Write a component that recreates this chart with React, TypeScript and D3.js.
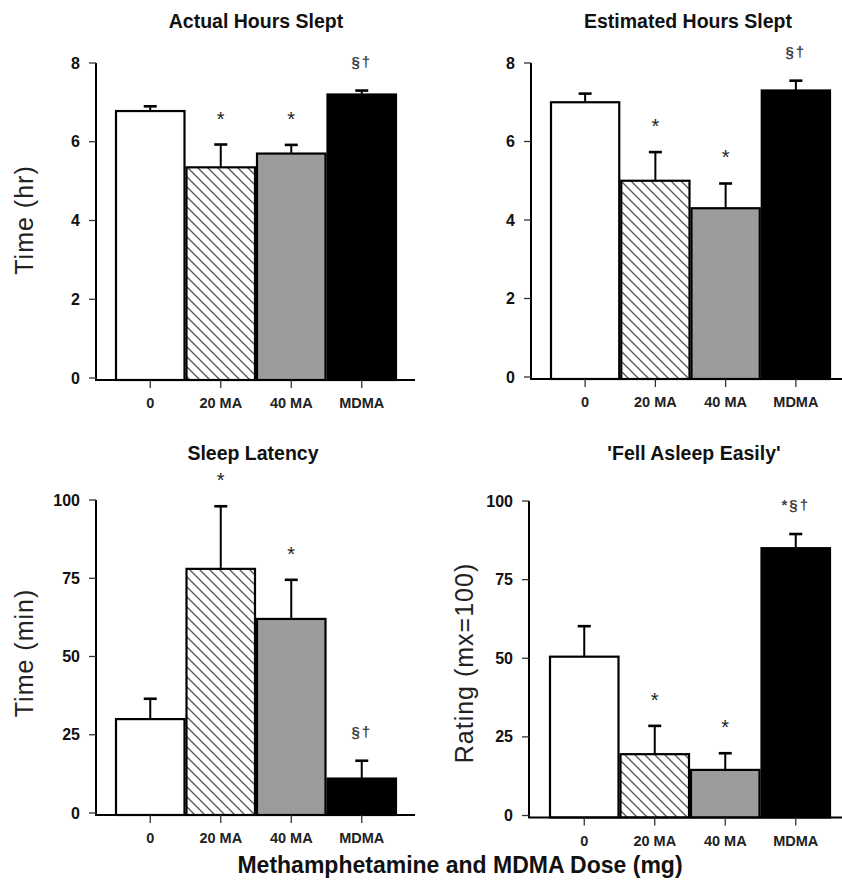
import React from "react";
import * as d3 from "d3";

const categories = ["0", "20 MA", "40 MA", "MDMA"];
const barFills = ["#ffffff", "url(#hatch)", "#9c9c9c", "#000000"];

const actualMeans = [6.78, 5.35, 5.7, 7.2];
const actualErr = [0.12, 0.58, 0.22, 0.1];
const actualSig = ["", "*", "*", "§†"];

const estimatedMeans = [7.0, 5.0, 4.3, 7.3];
const estimatedErr = [0.22, 0.73, 0.63, 0.25];
const estimatedSig = ["", "*", "*", "§†"];

const latencyMeans = [30, 78, 62, 11];
const latencyErr = [6.5, 20, 12.5, 5.7];
const latencySig = ["", "*", "*", "§†"];

const easilyMeans = [50.5, 19.5, 14.5, 85];
const easilyErr = [9.7, 9, 5.3, 4.5];
const easilySig = ["", "*", "*", "*§†"];

const hourTicks = [0, 2, 4, 6, 8];
const minuteTicks = [0, 25, 50, 75, 100];

const FONT = "'Liberation Sans', Arial, sans-serif";

type PanelProps = {
  title: string;
  titleX: number;
  titleY: number;
  yLabel?: string;
  yLabelX?: number;
  yLabelY?: number;
  means: number[];
  errs: number[];
  sig: string[];
  ticks: number[];
  axisX: number;
  yRange: [number, number];
  bandRange: [number, number];
  axisEnd: number;
};

function Panel(p: PanelProps) {
  const y = d3.scaleLinear().domain([0, p.ticks[p.ticks.length - 1]]).range(p.yRange);
  const x = d3.scaleBand<string>().domain(categories).range(p.bandRange).padding(0);
  const base = y(0) + 2;
  const capW = 13;

  return (
    <g>
      <text x={p.titleX} y={p.titleY} textAnchor="middle" fontFamily={FONT} fontWeight="bold" fontSize={19.5} fill="#111">
        {p.title}
      </text>
      {p.yLabel && (
        <text
          transform={`translate(${p.yLabelX},${p.yLabelY}) rotate(-90)`}
          textAnchor="middle"
          fontFamily={FONT}
          fontSize={25}
          letterSpacing={1}
          fill="#222"
        >
          {p.yLabel}
        </text>
      )}
      {/* bars */}
      {p.means.map((m, i) => {
        const x0 = x(categories[i])!;
        const w = x.bandwidth();
        const top = y(m);
        return (
          <rect
            key={"b" + i}
            x={x0 + 1}
            y={top}
            width={w - 2}
            height={base - top}
            fill={barFills[i]}
            stroke="#000"
            strokeWidth={2.2}
          />
        );
      })}
      {/* error bars */}
      {p.means.map((m, i) => {
        const cx = x(categories[i])! + x.bandwidth() / 2;
        const top = y(m + p.errs[i]);
        return (
          <g key={"e" + i} stroke="#000" strokeWidth={2}>
            <line x1={cx} x2={cx} y1={y(m)} y2={top} />
            <line x1={cx - capW / 2} x2={cx + capW / 2} y1={top} y2={top} strokeWidth={2.6} />
          </g>
        );
      })}
      {/* significance marks */}
      {p.sig.map((s, i) => {
        if (!s) return null;
        const cx = x(categories[i])! + x.bandwidth() / 2;
        const center = y(p.means[i] + p.errs[i]) - 30;
        const star = s === "*";
        return (
          <text
            key={"s" + i}
            x={cx}
            y={star ? center + 11 : center + 6}
            textAnchor="middle"
            fontFamily={FONT}
            fontSize={star ? 20 : 15}
            fontWeight={star ? "normal" : "bold"}
            fill={star ? "#222" : "#444"}
            letterSpacing={star ? 0 : 2}
          >
            {s}
          </text>
        );
      })}
      {/* y axis */}
      <line x1={p.axisX} x2={p.axisX} y1={y(p.ticks[p.ticks.length - 1])} y2={base} stroke="#000" strokeWidth={2} />
      {p.ticks.map((t) => (
        <g key={"t" + t}>
          <line x1={p.axisX - 7} x2={p.axisX} y1={y(t)} y2={y(t)} stroke="#333" strokeWidth={1.3} />
          <text
            x={p.axisX - 16}
            y={y(t) + 5.5}
            textAnchor="end"
            fontFamily={FONT}
            fontWeight="bold"
            fontSize={16}
            fill="#111"
          >
            {t}
          </text>
        </g>
      ))}
      {/* x axis */}
      <line x1={p.axisX - 1} x2={p.axisEnd} y1={base} y2={base} stroke="#000" strokeWidth={2.2} />
      {categories.map((c) => {
        const cx = x(c)! + x.bandwidth() / 2;
        return (
          <g key={"c" + c}>
            <line x1={cx} x2={cx} y1={base} y2={base + 8} stroke="#333" strokeWidth={1.3} />
            <text x={cx} y={base + 28} textAnchor="middle" fontFamily={FONT} fontWeight="bold" fontSize={14.5} fill="#222">
              {c}
            </text>
          </g>
        );
      })}
    </g>
  );
}

export default function App() {
  return (
    <svg
      width={842}
      height={882}
      style={{ position: "absolute", left: 0, top: 0, background: "#fff" }}
    >
      <defs>
        <pattern id="hatch" patternUnits="userSpaceOnUse" width={10} height={10}>
          <rect width={10} height={10} fill="#fff" />
          <path d="M-2,-2 L12,12 M-2,8 L2,12 M8,-2 L12,2" stroke="#555" strokeWidth={1.3} />
        </pattern>
      </defs>
      <Panel
        title="Actual Hours Slept"
        titleX={256}
        titleY={28}
        yLabel="Time (hr)"
        yLabelX={33}
        yLabelY={220}
        means={actualMeans}
        errs={actualErr}
        sig={actualSig}
        ticks={hourTicks}
        axisX={96}
        yRange={[378, 63]}
        bandRange={[115, 397]}
        axisEnd={415}
      />
      <Panel
        title="Estimated Hours Slept"
        titleX={688}
        titleY={28}
        means={estimatedMeans}
        errs={estimatedErr}
        sig={estimatedSig}
        ticks={hourTicks}
        axisX={531}
        yRange={[377, 63]}
        bandRange={[550, 831]}
        axisEnd={842}
      />
      <Panel
        title="Sleep Latency"
        titleX={253}
        titleY={460}
        yLabel="Time (min)"
        yLabelX={33}
        yLabelY={653}
        means={latencyMeans}
        errs={latencyErr}
        sig={latencySig}
        ticks={minuteTicks}
        axisX={96}
        yRange={[813, 500]}
        bandRange={[115, 397]}
        axisEnd={415}
      />
      <Panel
        title="'Fell Asleep Easily'"
        titleX={694}
        titleY={460}
        yLabel="Rating (mx=100)"
        yLabelX={473}
        yLabelY={663}
        means={easilyMeans}
        errs={easilyErr}
        sig={easilySig}
        ticks={minuteTicks}
        axisX={529}
        yRange={[815.5, 501]}
        bandRange={[549, 831]}
        axisEnd={842}
      />
      <text x={460} y={873} textAnchor="middle" fontFamily={FONT} fontWeight="bold" fontSize={23} fill="#111">
        Methamphetamine and MDMA Dose (mg)
      </text>
    </svg>
  );
}
